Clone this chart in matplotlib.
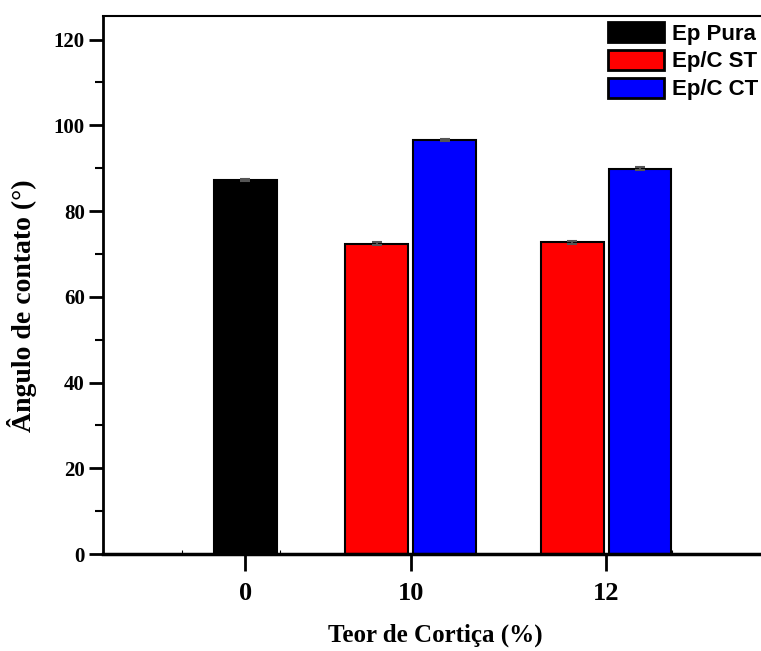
import numpy as np
import matplotlib
matplotlib.use("Agg")
import matplotlib.pyplot as plt
from matplotlib.ticker import MultipleLocator, FixedLocator

# contact angle data per cork content
teor = ["0", "10", "12"]
group_pos = [0.0, 1.0, 2.18]      # category positions along x

ep_pura = [87.2]
ep_st = [72.4, 72.7]
ep_ct = [96.6, 89.9]
err_pura = [0.3]
err_st = [0.35, 0.35]
err_ct = [0.25, 0.25]

series_names = ["Ep Pura", "Ep/C ST", "Ep/C CT"]
series_colors = ["#000000", "#ff0000", "#0000ff"]

W, H = 761, 651
fig = plt.figure(figsize=(W / 100, H / 100), dpi=100)
ax = fig.add_axes([103.5 / W, 97 / H, (790 - 103.5) / W, (554 - 15.5) / H])

bw = 0.38
off = 0.205
ax.bar(group_pos[0], ep_pura, bw, color=series_colors[0], edgecolor="black",
       linewidth=1.5, label=series_names[0], zorder=2)
ax.bar(np.array(group_pos[1:]) - off, ep_st, bw, color=series_colors[1],
       edgecolor="black", linewidth=1.5, label=series_names[1], zorder=2)
ax.bar(np.array(group_pos[1:]) + off, ep_ct, bw, color=series_colors[2],
       edgecolor="black", linewidth=1.5, label=series_names[2], zorder=2)

ekw = dict(fmt="none", ecolor="#555555", elinewidth=1.5, capsize=3.6,
           capthick=1.5, zorder=3)
ax.errorbar(group_pos[0], ep_pura, yerr=err_pura, **ekw)
ax.errorbar(np.array(group_pos[1:]) - off, ep_st, yerr=err_st, **ekw)
ax.errorbar(np.array(group_pos[1:]) + off, ep_ct, yerr=err_ct, **ekw)

ax.set_ylim(0, 125.6)
ax.set_xlim(-0.855, (790 - 245) / 165.6)

ax.yaxis.set_major_locator(MultipleLocator(20))
ax.yaxis.set_minor_locator(MultipleLocator(10))
ax.set_xticks(group_pos)
ax.set_xticklabels(teor)
ax.xaxis.set_minor_locator(FixedLocator([-0.38, 0.21, 0.80, 1.39, 1.99, 2.58]))

ax.tick_params(axis="y", which="major", direction="out", length=10, width=2)
ax.tick_params(axis="y", which="minor", direction="out", length=6, width=1.5)
ax.tick_params(axis="x", which="major", direction="out", length=12, width=2, pad=8)
ax.tick_params(axis="x", which="minor", direction="in", length=3, width=0.8)

serif_bold = dict(family="Liberation Serif", weight="bold")
for lab in ax.get_xticklabels():
    lab.set_fontsize(19)
    lab.set(**serif_bold)
for lab in ax.get_yticklabels():
    lab.set_fontsize(15)
    lab.set(**serif_bold)

ax.spines["left"].set_linewidth(2)
ax.spines["bottom"].set_linewidth(2.5)
ax.spines["top"].set_linewidth(1.5)
ax.spines["right"].set_visible(False)

ax.set_xlabel("Teor de Cortiça (%)", fontsize=18, **serif_bold)
ax.xaxis.set_label_coords(0.4836, -0.13)
ax.set_ylabel("Ângulo de contato (°)", fontsize=20, **serif_bold)
ax.yaxis.set_label_coords(-0.097, 0.462)

leg = ax.legend(loc="upper left", bbox_to_anchor=(608 / W, 1 - 22 / H),
                bbox_transform=fig.transFigure, frameon=False,
                prop=dict(family="Liberation Sans", weight="bold", size=16),
                handlelength=2.52, handleheight=1.0, handletextpad=0.35,
                labelspacing=0.24, borderpad=0, borderaxespad=0)
for p in leg.get_patches():
    p.set_linewidth(2)

fig.savefig("out.png", dpi=100)
